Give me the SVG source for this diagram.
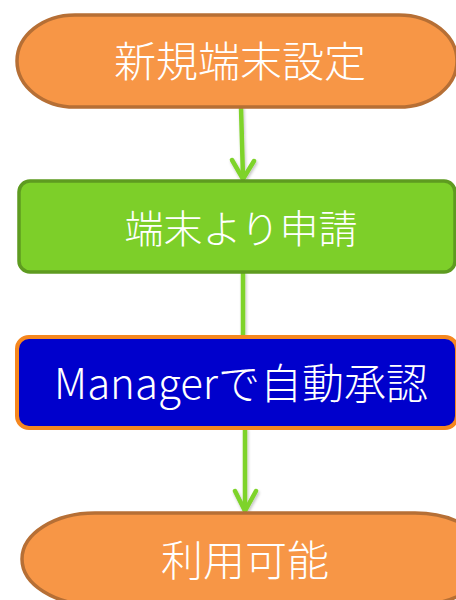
<svg xmlns="http://www.w3.org/2000/svg" width="456" height="600" viewBox="0 0 456 600">
<defs>
<style>
.t{font-family:"Noto Sans CJK JP","Noto Sans",sans-serif;font-weight:300;fill:#ffffff;text-anchor:middle}
.term{fill:#F79646;stroke:#B66F35;stroke-width:3.5}
.conn{fill:none;stroke:#7ED32A;stroke-width:4.5;stroke-linecap:round;stroke-linejoin:round}
</style>
<filter id="sh" x="-50%" y="-50%" width="200%" height="200%">
<feGaussianBlur in="SourceAlpha" stdDeviation="1.5"/>
<feOffset dx="1" dy="2"/>
<feComponentTransfer><feFuncA type="linear" slope="0.25"/></feComponentTransfer>
<feMerge><feMergeNode/><feMergeNode in="SourceGraphic"/></feMerge>
</filter>
</defs>
<rect width="456" height="600" fill="#ffffff"/>
<g id="connectors" filter="url(#sh)">
<path class="conn" d="M241 107 L243 178"/>
<path class="conn" d="M232 160 L243 179 L254 161"/>
<path class="conn" d="M243 273 L243 336"/>
<path class="conn" d="M245 429 L245 510"/>
<path class="conn" d="M235 491 L245 511 L256 491"/>
</g>
<g id="n1">
<rect class="term" x="17" y="15" width="440" height="92" rx="58" ry="46"/>
<text class="t" x="240" y="77" font-size="42">新規端末設定</text>
</g>
<g id="n2">
<rect x="19" y="181" width="436" height="91" rx="11" ry="11" fill="#7DCF29" stroke="#5E9B20" stroke-width="3.5"/>
<text class="t" x="241" y="243" font-size="39">端末より申請</text>
</g>
<g id="n3">
<rect x="17" y="337" width="440" height="91" rx="12" ry="12" fill="#0000CC" stroke="#F5871F" stroke-width="4"/>
<text class="t" x="241" y="399" font-size="42">Managerで自動承認</text>
</g>
<g id="n4">
<rect class="term" x="22" y="513" width="466" height="92" rx="73" ry="46"/>
<text class="t" x="245" y="576" font-size="42">利用可能</text>
</g>
</svg>
